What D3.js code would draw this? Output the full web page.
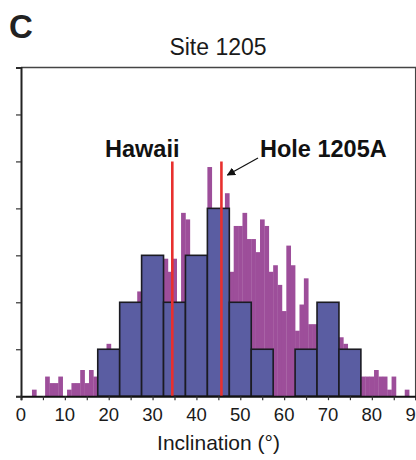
<!DOCTYPE html>
<html>
<head>
<meta charset="utf-8">
<script src="https://cdn.jsdelivr.net/npm/d3@7"></script>
<style>
	body { margin: 0; background: #fff; }
	svg { display: block; font-family: 'Liberation Sans', Arial, Helvetica, sans-serif; }
</style>
</head>
<body>
<div id="chart"></div>
<script>
var chart_width = 416
var chart_height = 460

// 1 degree bins (Site 1205 samples)
var purple_bins = [1, 2, 3, 4, 5, 6, 7, 8, 9, 10, 11, 12, 13, 14, 15, 16, 17, 18, 19, 20,
	21, 22, 23, 24, 25, 26, 27, 28, 29, 30, 31, 32, 33, 34, 35, 36, 37, 38, 39, 40,
	41, 42, 43, 44, 45, 46, 47, 48, 49, 50, 51, 52, 53, 54, 55, 56, 57, 58, 59, 60,
	61, 62, 63, 64, 65, 66, 67, 68, 69, 70, 71, 72, 73, 74, 75, 76, 77, 78, 79, 80,
	81, 82, 83, 84, 85, 86, 87, 88, 89]
var purple_counts = [0, 0, 1, 0, 0, 3, 2, 2, 3, 0, 1, 2, 2, 4, 2, 4, 3, 5, 6, 8,
	6, 5, 7, 9, 10, 12, 16, 13, 12, 15, 14, 17, 21, 19, 21, 12, 28, 27, 20, 18,
	21, 20, 35, 28, 27, 26, 31, 19, 26, 26, 28, 24, 24, 22, 27, 26, 19, 20, 17, 13,
	23, 20, 10, 14, 18, 11, 11, 10, 9, 11, 8, 9, 9, 8, 6, 5, 4, 3, 3, 3,
	4, 3, 3, 1, 3, 0, 0, 1, 0]

// 5 degree bins (Hole 1205A units)
var blue_bins = [20, 25, 30, 35, 40, 45, 50, 55, 60, 65, 70, 75]
var blue_counts = [1, 2, 3, 2, 3, 4, 2, 1, 0, 1, 2, 1]

// reference inclinations
var markers = [
	{ name: 'Hawaii', value: 34.5 },
	{ name: 'Hole 1205A', value: 45.7 }
]

var x_ticks = [0, 5, 10, 15, 20, 25, 30, 35, 40, 45, 50, 55, 60, 65, 70, 75, 80, 85, 90]
var x_labels = [0, 10, 20, 30, 40, 50, 60, 70, 80, 90]
var y_ticks = [0, 1, 2, 3, 4, 5, 6, 7]

var svg = d3.select('#chart')
	.append('svg')
	.attr('width', chart_width)
	.attr('height', chart_height)

var x_scale = d3.scaleLinear()
	.domain([0, 90])
	.range([21, 415.7])

var y_blue = d3.scaleLinear()
	.domain([0, 7])
	.range([396.2, 67.5])

var y_purple = d3.scaleLinear()
	.domain([0, 50.2])
	.range([396.2, 67.5])

var purple_data = purple_bins.map((b, i) => ({ bin: b, count: purple_counts[i] }))
var blue_data = blue_bins.map((b, i) => ({ bin: b, count: blue_counts[i] }))
	.filter(d => d.count > 0)

// frame (top + right)
svg.append('path')
	.attr('d', 'M' + x_scale(0) + ',' + y_blue(7) + 'H' + x_scale(90) + 'V' + y_blue(0))
	.attr('fill', 'none')
	.attr('stroke', '#444')
	.attr('stroke-width', 1.5)

// purple histogram
svg.append('g')
	.selectAll('rect')
	.data(purple_data.filter(d => d.count > 0))
	.enter()
	.append('rect')
	.attr('x', d => x_scale(d.bin - 0.5))
	.attr('width', d => x_scale(d.bin + 0.5) - x_scale(d.bin - 0.5) + 0.3)
	.attr('y', d => y_purple(d.count))
	.attr('height', d => y_purple(0) - y_purple(d.count))
	.attr('fill', '#9d4e9a')

// blue histogram
svg.append('g')
	.selectAll('rect')
	.data(blue_data)
	.enter()
	.append('rect')
	.attr('x', d => x_scale(d.bin - 2.5))
	.attr('width', d => x_scale(d.bin + 2.5) - x_scale(d.bin - 2.5))
	.attr('y', d => y_blue(d.count))
	.attr('height', d => y_blue(0) - y_blue(d.count))
	.attr('fill', '#5a5da2')
	.attr('stroke', '#1b1b22')
	.attr('stroke-width', 1.6)

// red reference lines
svg.append('g')
	.selectAll('line')
	.data(markers)
	.enter()
	.append('line')
	.attr('x1', d => x_scale(d.value))
	.attr('x2', d => x_scale(d.value))
	.attr('y1', 161.5)
	.attr('y2', y_blue(0))
	.attr('stroke', '#e8302e')
	.attr('stroke-width', 2.6)

// axes
var x_axis = d3.axisBottom(x_scale)
	.tickValues(x_ticks)
	.tickSize(4)
	.tickFormat('')
svg.append('g')
	.attr('transform', 'translate(0,' + y_blue(0) + ')')
	.call(x_axis)
	.call(g => g.select('.domain').attr('stroke', '#111').attr('stroke-width', 2))
	.call(g => g.selectAll('.tick line').attr('stroke', '#333').attr('stroke-width', 1.2))

svg.append('g')
	.selectAll('text')
	.data(x_labels)
	.enter()
	.append('text')
	.attr('x', d => x_scale(d))
	.attr('y', 421)
	.attr('text-anchor', 'middle')
	.attr('font-size', 18.5)
	.attr('fill', '#1a1a1a')
	.text(d => d)

var y_axis = d3.axisLeft(y_blue)
	.tickValues(y_ticks)
	.tickSize(5)
	.tickFormat('')
svg.append('g')
	.attr('transform', 'translate(' + x_scale(0) + ',0)')
	.call(y_axis)
	.call(g => g.select('.domain').attr('stroke', '#222').attr('stroke-width', 2))
	.call(g => g.selectAll('.tick line').attr('stroke', '#333').attr('stroke-width', 1.2))

// titles
svg.append('text')
	.attr('x', 9)
	.attr('y', 38)
	.attr('font-size', 33)
	.attr('font-weight', 'bold')
	.attr('fill', '#222')
	.text('C')

svg.append('text')
	.attr('x', 218)
	.attr('y', 55)
	.attr('text-anchor', 'middle')
	.attr('font-size', 23)
	.attr('fill', '#1a1a1a')
	.text('Site 1205')

svg.append('text')
	.attr('x', 218.5)
	.attr('y', 450)
	.attr('text-anchor', 'middle')
	.attr('font-size', 21)
	.attr('fill', '#1a1a1a')
	.text('Inclination (°)')

// marker labels
svg.append('text')
	.attr('x', 105)
	.attr('y', 157)
	.attr('font-size', 23.5)
	.attr('font-weight', 'bold')
	.attr('fill', '#111')
	.text(markers[0].name)

svg.append('text')
	.attr('x', 260)
	.attr('y', 157)
	.attr('font-size', 23.5)
	.attr('font-weight', 'bold')
	.attr('fill', '#111')
	.text(markers[1].name)

// arrow to Hole 1205A line
svg.append('defs')
	.append('marker')
	.attr('id', 'arrow')
	.attr('viewBox', '0 0 10 10')
	.attr('refX', 9)
	.attr('refY', 5)
	.attr('markerWidth', 7)
	.attr('markerHeight', 7)
	.attr('orient', 'auto')
	.append('path')
	.attr('d', 'M0,0L10,5L0,10z')
	.attr('fill', '#111')

svg.append('line')
	.attr('x1', 258)
	.attr('y1', 158)
	.attr('x2', x_scale(markers[1].value) + 6)
	.attr('y2', 175)
	.attr('stroke', '#111')
	.attr('stroke-width', 1.2)
	.attr('marker-end', 'url(#arrow)')
</script>
</body>
</html>
